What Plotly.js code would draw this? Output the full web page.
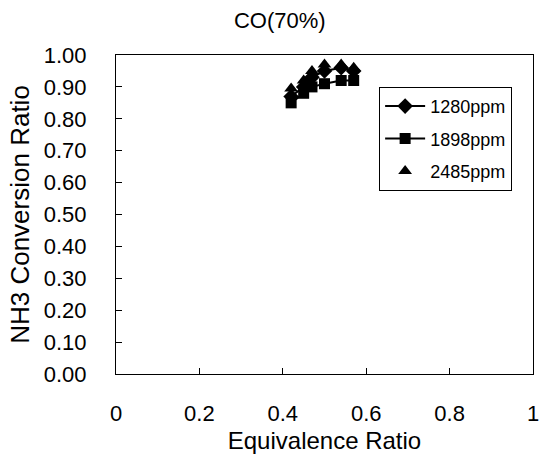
<!DOCTYPE html>
<html>
<head>
<meta charset="utf-8">
<script src="https://cdn.plot.ly/plotly-3.0.1.min.js"></script>
<style>html,body{margin:0;padding:0;background:#fff;}#chart{width:554px;height:460px;}</style>
</head>
<body>
<div id="chart"></div>
<script>
const equivalenceRatio = [0.42, 0.45, 0.47, 0.50, 0.54, 0.57];
const conv1280 = [0.87, 0.90, 0.93, 0.95, 0.96, 0.95];
const conv1898 = [0.85, 0.88, 0.90, 0.91, 0.92, 0.92];
const conv2485 = [0.895, 0.92, 0.95, 0.97, 0.97, 0.96];
const seriesNames = ['1280ppm', '1898ppm', '2485ppm'];
const xTicks = [0, 0.2, 0.4, 0.6, 0.8, 1];
const xTickText = ['0', '0.2', '0.4', '0.6', '0.8', '1'];
const yTicks = [0, 0.1, 0.2, 0.3, 0.4, 0.5, 0.6, 0.7, 0.8, 0.9, 1.0];

const font = 'Liberation Sans, Arial, sans-serif';
const traces = [
  {x: equivalenceRatio, y: conv1280, name: seriesNames[0], mode: 'lines+markers', legendgroup: 'a',
   line: {color: '#000', width: 2}, marker: {symbol: 'diamond', size: 12, color: '#000'}},
  {x: equivalenceRatio, y: conv1898, name: seriesNames[1], mode: 'lines+markers', legendgroup: 'b',
   line: {color: '#000', width: 2}, marker: {symbol: 'square', size: 11, color: '#000'}},
  {x: equivalenceRatio, y: conv2485, name: seriesNames[2], mode: 'markers', legendgroup: 'c',
   marker: {symbol: 'triangle-up', size: 12, color: '#000'}}
];
const layout = {
  width: 554, height: 460,
  margin: {l: 116, r: 21, t: 55, b: 86},
  paper_bgcolor: '#fff', plot_bgcolor: '#fff',
  font: {family: font, color: '#000'},
  title: {text: 'CO(70%)', font: {size: 22, family: font}, x: 0.505, xanchor: 'center', y: 0.955, yanchor: 'middle'},
  showlegend: true,
  legend: {x: 0.631, y: 0.90, xanchor: 'left', yanchor: 'top', bordercolor: '#000', borderwidth: 1,
           bgcolor: '#fff', font: {size: 18, family: font}, tracegroupgap: 6, traceorder: 'grouped', itemwidth: 40},
  xaxis: {range: [0, 1], tickvals: xTicks, ticktext: xTickText, ticks: 'inside', ticklen: 6, tickcolor: '#000',
          showline: true, linecolor: '#000', linewidth: 1, mirror: true, showgrid: false, zeroline: false,
          tickfont: {size: 22, family: font}, ticklabelstandoff: 20,
          title: {text: 'Equivalence Ratio', font: {size: 24, family: font}, standoff: 6}},
  yaxis: {range: [0, 1], tickvals: yTicks, tickformat: '.2f', ticks: 'inside', ticklen: 6, tickcolor: '#000',
          showline: true, linecolor: '#000', linewidth: 1, mirror: true, showgrid: false, zeroline: false,
          tickfont: {size: 22, family: font}, ticklabelstandoff: 24,
          title: {text: 'NH3 Conversion Ratio', font: {size: 26, family: font}, standoff: 6}}
};
Plotly.newPlot('chart', traces, layout, {displayModeBar: false, staticPlot: true});
</script>
</body>
</html>
